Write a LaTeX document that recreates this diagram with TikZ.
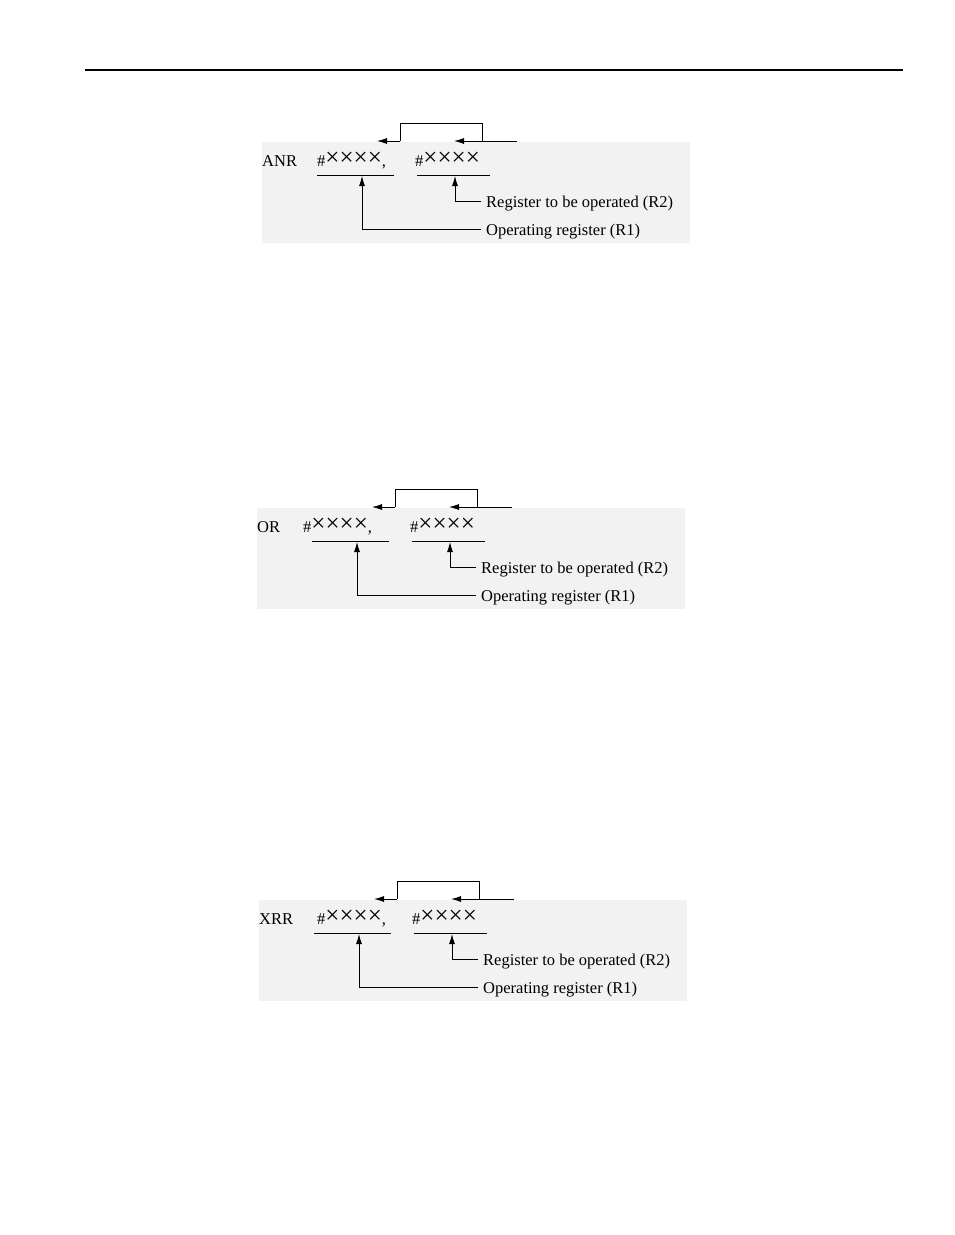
\documentclass[tikz,border=0pt]{standalone}
\usepackage{fontspec}
\setmainfont{Liberation Serif}
\usetikzlibrary{arrows.meta}
\newcommand{\xx}{{\fontsize{25}{19}\selectfont\raisebox{1pt}{×}}}
\begin{document}
\begin{tikzpicture}[x=1pt,y=-1pt,
  lbl/.style={anchor=base west,inner sep=0pt,font=\fontsize{16.5}{19}\selectfont},
  ln/.style={line width=0.9pt},
  arr/.style={ln,-{Latex[length=10pt,width=6pt]}}]
\useasboundingbox (0,0) rectangle (954,1235);
\draw[line width=2pt] (85,70) -- (903,70);
\newcommand{\blk}[5]{% #1 dx, #2 dy, #3 op, #4 first-# x, #5 name
\begin{scope}[shift={(#1,#2)}]
\fill[black!5] (262,142) rectangle (690,243);
\node[lbl] (#5op) at (262,166) {#3};
\node[lbl] (#5a) at (#4,166) {\#\xx\xx\xx\xx,};
\node[lbl] (#5b) at (415,166) {\#\xx\xx\xx\xx};
\draw[ln] (317,175) -- (394,175);
\draw[ln] (417,175) -- (490,175);
\coordinate (#5e) at (517,141);
\coordinate (#5c) at (482,141);
\coordinate (#5t1) at (454,141);
\coordinate (#5d) at (400,141);
\coordinate (#5t2) at (377,141);
\draw[ln] (#5e) -- (#5c) |- (400,123) -- (#5d);
\draw[arr] (#5c) -- (#5t1);
\draw[arr] (#5d) -- (#5t2);
\node[lbl] (#5r2) at (486,207) {Register to be operated (R2)};
\node[lbl] (#5r1) at (486,235) {Operating register (R1)};
\draw[arr] (#5r2.base west) ++(-5,-6) -| (455,176);
\draw[arr] (#5r1.base west) ++(-5,-6) -| (362,176);
\end{scope}}
\blk{0}{0}{ANR}{317}{A}
\blk{-5}{366}{OR}{308}{B}
\blk{-3}{758}{XRR}{320}{C}
\end{tikzpicture}
\end{document}
